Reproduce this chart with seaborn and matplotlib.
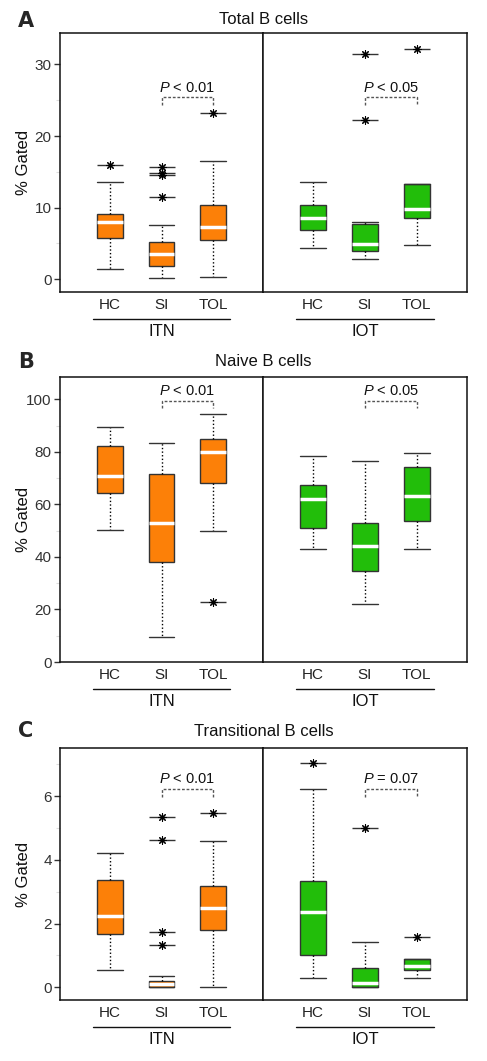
import numpy as np
import pandas as pd
import seaborn as sns
import matplotlib.pyplot as plt
from matplotlib import transforms

groups = ["HC", "SI", "TOL"]
cohorts = ["ITN", "IOT"]

# each box: lower whisker, q1, median, q3, upper whisker
total_itn = [[1.45, 5.8, 7.95, 9.1, 13.6], [0.2, 1.85, 3.45, 5.2, 7.6], [0.25, 5.45, 7.3, 10.4, 16.5]]
total_iot = [[4.4, 6.85, 8.55, 10.3, 13.6], [2.75, 4.0, 4.9, 7.7, 7.95], [4.7, 8.5, 9.75, 13.25, 13.25]]
total_itn_out = [[15.9], [15.7, 14.9, 14.5, 11.45], [23.2]]
total_iot_out = [[], [31.4, 22.3], [32.1]]

naive_itn = [[50.3, 64.5, 70.8, 82.4, 89.5], [9.6, 38.0, 52.8, 71.5, 83.5], [50.0, 68.2, 79.8, 84.8, 94.4]]
naive_iot = [[43.1, 51.0, 62.1, 67.5, 78.4], [21.9, 34.7, 44.2, 53.1, 76.7], [43.1, 53.7, 63.2, 74.3, 79.7]]
naive_itn_out = [[], [], [22.9]]
naive_iot_out = [[], [], []]

trans_itn = [[0.54, 1.67, 2.24, 3.37, 4.22], [0.0, 0.0, 0.09, 0.19, 0.35], [0.02, 1.81, 2.5, 3.18, 4.6]]
trans_iot = [[0.28, 1.01, 2.35, 3.34, 6.22], [0.0, 0.0, 0.13, 0.62, 1.42], [0.28, 0.54, 0.67, 0.9, 0.9]]
trans_itn_out = [[], [5.33, 4.61, 1.73, 1.32], [5.47]]
trans_iot_out = [[7.05], [5.0], [1.58]]

panel_letters = ["A", "B", "C"]
panel_titles = ["Total B cells", "Naive B cells", "Transitional B cells"]
p_labels = [["$P$ < 0.01", "$P$ < 0.05"], ["$P$ < 0.01", "$P$ < 0.05"], ["$P$ < 0.01", "$P$ = 0.07"]]
bracket_top = [25.4, 99.5, 6.23]
bracket_bottom = [24.4, 96.7, 5.98]
y_limits = [(-1.8, 34.4), (0, 108.5), (-0.4, 7.51)]
y_major = [[0, 10, 20, 30], [0, 20, 40, 60, 80, 100], [0, 2, 4, 6]]
y_minor = [[5, 15, 25], [10, 30, 50, 70, 90], [1, 3, 5, 7]]

orange = "#FC8008"
green = "#22BE0A"


def box_frame(stats):
    rows = []
    for g, (lo, q1, med, q3, hi) in zip(groups, stats):
        for v in [lo, q1, q1, med, q3, q3, hi]:
            rows.append((g, v))
    return pd.DataFrame(rows, columns=["group", "value"])


def draw_half(ax, stats, outliers, color):
    sns.boxplot(data=box_frame(stats), x="group", y="value", order=groups,
                color=color, saturation=1, width=0.5, whis=(0, 100),
                showfliers=False, linecolor="#333333", linewidth=1,
                medianprops=dict(color="white", linewidth=2.5),
                whiskerprops=dict(color="black", linestyle=(0, (1, 1.6)), linewidth=1),
                capprops=dict(color="#333333", linewidth=1),
                capwidths=0.5, ax=ax)
    out = pd.DataFrame([(g, v) for g, vals in zip(groups, outliers) for v in vals],
                       columns=["group", "value"])
    if len(out):
        sns.stripplot(data=out, x="group", y="value", order=groups, jitter=False,
                      marker="_", size=19, color="#333333", linewidth=1, ax=ax)
        sns.stripplot(data=out, x="group", y="value", order=groups, jitter=False,
                      marker=(8, 2, 0), size=5.5, color="black", linewidth=0.8, ax=ax)


sns.set_style("ticks")
plt.rcParams["font.family"] = ["Liberation Sans", "DejaVu Sans"]
plt.rcParams["mathtext.fontset"] = "custom"
plt.rcParams["mathtext.it"] = "Liberation Sans:italic"
plt.rcParams["mathtext.rm"] = "Liberation Sans"

fig = plt.figure(figsize=(4.87, 10.61), dpi=100)

# axes boxes in pixels: top, bottom
rows_px = [(33, 292), (377, 662), (748, 1000)]
letter_y = [21, 362, 731]
title_y = [19, 362, 732]
left_px, mid_px, right_px = 60, 263, 467
W, H = 487, 1061

all_data = [
    (total_itn, total_iot, total_itn_out, total_iot_out),
    (naive_itn, naive_iot, naive_itn_out, naive_iot_out),
    (trans_itn, trans_iot, trans_itn_out, trans_iot_out),
]

for i, (itn, iot, itn_out, iot_out) in enumerate(all_data):
    top, bot = rows_px[i]
    b = 1 - bot / H
    h = (bot - top) / H
    ax1 = fig.add_axes([left_px / W, b, (mid_px - left_px) / W, h])
    ax2 = fig.add_axes([mid_px / W, b, (right_px - mid_px) / W, h], sharey=ax1)
    draw_half(ax1, itn, itn_out, orange)
    draw_half(ax2, iot, iot_out, green)

    for j, ax in enumerate([ax1, ax2]):
        ax.set_xlim(-0.97, 2.97)
        ax.set_ylim(*y_limits[i])
        ax.set_xlabel("")
        ax.set_ylabel("")
        ax.set_xticks([0, 1, 2])
        ax.set_xticklabels(groups, fontsize=11, color="#222222")
        ax.tick_params(axis="x", length=0, pad=4)
        for s in ax.spines.values():
            s.set_visible(True)
            s.set_linewidth(1.1)
            s.set_color("#111111")

        # significance bracket between SI and TOL
        yt, yb = bracket_top[i], bracket_bottom[i]
        ax.plot([1, 1, 2, 2], [yb, yt, yt, yb], color="#555555", lw=1,
                linestyle=(0, (2, 1.3)))
        ax.annotate(p_labels[i][j], xy=(1.5, yt), xytext=(0, 2),
                    textcoords="offset points", ha="center", va="bottom",
                    fontsize=10.5, color="#111111")

        # cohort underline + label
        base = transforms.blended_transform_factory(ax.transData, ax.transAxes)
        line_tr = base + transforms.ScaledTranslation(0, -27 / 100, fig.dpi_scale_trans)
        ax.plot([1 - 1.33, 1 + 1.33], [0, 0], transform=line_tr, clip_on=False,
                color="#111111", lw=1)
        ax.annotate(cohorts[j], xy=(1, 0), xycoords=base, xytext=(0, -40 * 0.72),
                    textcoords="offset points", ha="center", va="center",
                    fontsize=12, color="#111111")

    ax1.set_yticks(y_major[i])
    ax1.set_yticks(y_minor[i], minor=True)
    ax1.tick_params(axis="y", which="major", length=4, width=1, color="#333333",
                    labelsize=11, labelcolor="#333333", pad=2)
    ax1.tick_params(axis="y", which="minor", length=3, width=0.8, color="#dddddd")
    ax2.tick_params(axis="y", which="both", left=False, labelleft=False)

    fig.text(18 / W, 1 - letter_y[i] / H, panel_letters[i], fontsize=15,
             fontweight="bold", ha="left", va="center", family="DejaVu Sans")
    fig.text((left_px + right_px) / 2 / W, 1 - title_y[i] / H, panel_titles[i],
             fontsize=12, ha="center", va="center", color="#111111")
    fig.text(24 / W, 1 - (top + bot) / 2 / H, "% Gated", rotation=90,
             fontsize=12, ha="center", va="center", color="#111111")

plt.savefig("out.png", dpi=100)
